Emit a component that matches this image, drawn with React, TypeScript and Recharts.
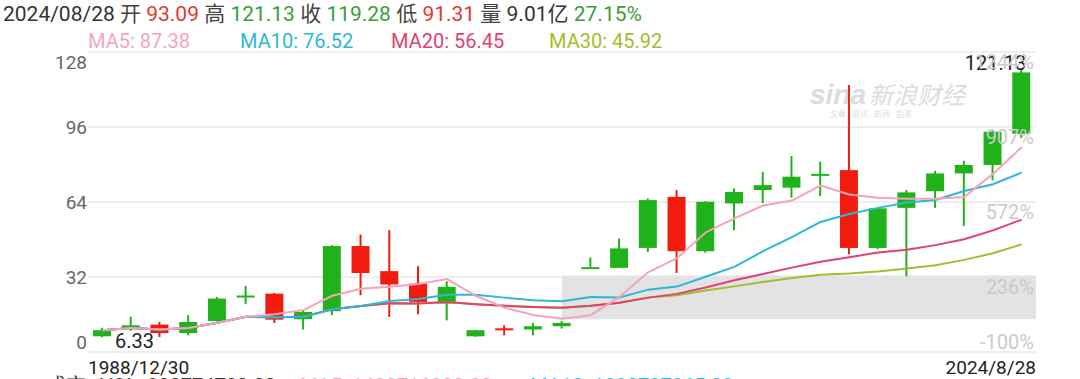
import React from 'react';
import { ComposedChart, Bar, Line, XAxis, YAxis, CartesianGrid, ReferenceArea } from 'recharts';

const categories = [
  '1988/12/30', '1993', '1994', '1995', '1996', '1997', '1998', '1999', '2000', '2001', '2002',
  '2003', '2004', '2005', '2006', '2007', '2008', '2009', '2010', '2011', '2012', '2013',
  '2014', '2015', '2016', '2017', '2018', '2019', '2020', '2021', '2022', '2023', '2024/8/28',
];
const opens = [6.7, 10.0, 11.7, 8.1, 13.2, 23.7, 24.9, 14.0, 17.4, 45.2, 34.5, 29.2, 20.7, 6.7, 10.1, 9.6, 11.0, 36.0, 35.9, 44.4, 66.2, 43.0, 63.4, 69.1, 70.1, 75.8, 77.6, 44.4, 61.5, 68.6, 76.2, 79.8, 93.09];
const highs = [10.4, 15.0, 12.8, 15.7, 23.5, 28.2, 25.2, 17.8, 45.6, 50.1, 52.0, 36.6, 30.2, 9.5, 11.4, 12.4, 13.2, 40.3, 48.4, 65.5, 69.1, 64.3, 69.8, 76.9, 83.6, 81.2, 113.9, 61.5, 69.1, 77.3, 81.6, 94.7, 121.13];
const lows = [6.33, 9.0, 6.4, 7.1, 13.0, 20.4, 12.4, 9.6, 15.7, 24.2, 15.0, 16.1, 13.5, 6.5, 7.1, 7.1, 10.0, 36.0, 35.9, 42.7, 33.7, 42.4, 52.0, 63.6, 65.8, 66.5, 41.7, 43.9, 32.3, 61.5, 53.8, 73.3, 91.31];
const closes = [9.3, 11.4, 8.1, 12.8, 22.8, 24.1, 13.8, 17.1, 45.2, 33.7, 28.8, 21.4, 27.8, 9.3, 9.9, 11.0, 12.4, 36.2, 44.2, 64.8, 43.0, 64.1, 68.3, 71.2, 74.8, 76.0, 44.4, 61.3, 68.1, 76.2, 79.8, 94.0, 119.28];
const ma5 = [9.3, 10.2, 9.6, 10.2, 12.5, 15.0, 16.1, 17.9, 24.0, 27.0, 27.8, 29.0, 31.1, 24.0, 18.9, 15.8, 14.2, 15.7, 23.5, 34.0, 40.0, 51.0, 57.0, 62.5, 64.6, 71.0, 67.2, 65.8, 65.4, 65.4, 66.1, 76.0, 87.38];
const ma10 = [9.3, 10.2, 9.6, 10.2, 12.5, 15.0, 14.8, 15.0, 18.2, 19.6, 21.8, 22.6, 24.4, 24.4, 23.2, 22.1, 21.7, 23.5, 23.3, 26.6, 27.9, 32.1, 36.3, 43.0, 49.0, 55.5, 58.9, 61.5, 63.8, 64.9, 68.7, 71.6, 76.52];
const ma20 = [9.3, 10.2, 9.6, 10.2, 12.5, 15.0, 14.8, 15.0, 18.2, 19.6, 20.8, 20.7, 21.3, 20.4, 19.7, 19.2, 18.9, 19.7, 21.0, 23.2, 24.8, 27.5, 30.6, 33.3, 36.0, 38.5, 40.4, 42.5, 43.6, 45.6, 48.1, 51.9, 56.45];
const ma30 = [9.3, 10.2, 9.6, 10.2, 12.5, 15.0, 14.8, 15.0, 18.2, 19.6, 20.8, 20.7, 21.3, 20.4, 19.7, 19.2, 18.9, 19.7, 21.0, 23.2, 24.2, 26.2, 28.0, 29.9, 31.6, 33.0, 33.5, 34.3, 35.6, 37.0, 39.3, 42.1, 45.92];

const priceTicks = [0, 32, 64, 96, 128];
const pctLabels = ['-100%', '236%', '572%', '907%', '1244%'];
const edgeLabels = ['1988/12/30', '2024/8/28'];
const shadedBand = { fromIndex: 16, toIndex: 32.5, low: 14, high: 32.6 };

const headerItems = [
  { t: '2024/08/28', c: '#333' }, { t: '开', c: '#444' }, { t: '93.09', c: '#e5372e' },
  { t: '高', c: '#444' }, { t: '121.13', c: '#3a9e3a' }, { t: '收', c: '#444' }, { t: '119.28', c: '#3a9e3a' },
  { t: '低', c: '#444' }, { t: '91.31', c: '#e5372e' }, { t: '量', c: '#444' }, { t: '9.01亿', c: '#333' },
  { t: '27.15%', c: '#3a9e3a' },
];
const legendItems = [
  { t: 'MA5: 87.38', c: '#f4a3bf', left: 88 },
  { t: 'MA10: 76.52', c: '#2cb8d6', left: 240 },
  { t: 'MA20: 56.45', c: '#e0426f', left: 391 },
  { t: 'MA30: 45.92', c: '#a3bd2c', left: 549 },
];
const volItems = [
  { t: '成交', c: '#333', left: 46 },
  { t: 'VOL: 902774720.00', c: '#333', left: 100 },
  { t: 'MA5: 1482716880.00', c: '#f4a3bf', left: 300 },
  { t: 'MA10: 1290737865.00', c: '#2cb8d6', left: 530 },
];

const GREEN = '#20b21a';
const RED = '#f11c0e';
const FONT = 'Roboto, "Noto Sans CJK SC", sans-serif';
const W = 1080;
const H = 379;
const LEFT_W = 88;
const RIGHT_W = 44;
const PLOT_W = W - LEFT_W - RIGHT_W;
const HALF_BAND = PLOT_W / categories.length / 2;
const MAX_HIGH = Math.max(...highs);
const MIN_LOW = Math.min(...lows);

const data = categories.map((d, i) => ({
  date: d,
  idx: i,
  range: [lows[i], highs[i]],
  open: opens[i],
  high: highs[i],
  low: lows[i],
  close: closes[i],
  ma5: ma5[i],
  ma10: ma10[i],
  ma20: ma20[i],
  ma30: ma30[i],
}));

const Candle = (props: any) => {
  const { x, y, width, height, payload } = props;
  if (x == null || y == null) return null;
  const { open, close, high, low } = payload;
  const top = Math.min(y, y + height);
  const h = Math.abs(height);
  const ratio = h / (high - low || 1);
  const yOf = (v: number) => top + (high - v) * ratio;
  const up = close >= open;
  const color = up ? GREEN : RED;
  const cx = x + width / 2;
  const bTop = yOf(Math.max(open, close));
  const bBot = yOf(Math.min(open, close));
  const bh = Math.max(bBot - bTop, 2);
  return (
    <g>
      <line x1={cx} x2={cx} y1={top} y2={top + h} stroke={color} strokeWidth={2} />
      <rect x={x} y={bTop} width={width} height={bh} fill={color} />
      {high === MAX_HIGH ? (
        <text x={cx + 5} y={top + 2} textAnchor="end" fontSize={20} fill="#222" fontFamily={FONT}>
          {high.toFixed(2)}
        </text>
      ) : null}
      {low === MIN_LOW ? (
        <text x={cx + 13} y={top + h + 11} textAnchor="start" fontSize={20} fill="#222" fontFamily={FONT}>
          {low.toFixed(2)}
        </text>
      ) : null}
    </g>
  );
};

const LeftTick = (props: any) => {
  const { x, y, payload } = props;
  const v = payload.value;
  const i = priceTicks.indexOf(v);
  const last = priceTicks.length - 1;
  const dy = i === last ? 10 : i === 0 ? -10 : 0;
  const pdy = i === 0 ? -10 : 10;
  return (
    <g>
      <text x={x} y={y + dy} textAnchor="end" dominantBaseline="central" fontSize={19} fill="#666" fontFamily={FONT}>
        {v}
      </text>
      <text
        x={x + 1 + PLOT_W - 2}
        y={y + pdy}
        textAnchor="end"
        dominantBaseline="central"
        fontSize={20}
        fill="#cacaca"
        fontFamily={FONT}
      >
        {pctLabels[i]}
      </text>
    </g>
  );
};

const BottomTick = (props: any) => {
  const { x, y, payload } = props;
  const v = payload.value;
  if (!edgeLabels.includes(v)) return null;
  const first = v === edgeLabels[0];
  return (
    <text
      x={first ? x - HALF_BAND : x + HALF_BAND}
      y={y + 15}
      textAnchor={first ? 'start' : 'end'}
      dominantBaseline="central"
      fontSize={19}
      fill="#222"
      fontFamily={FONT}
    >
      {v}
    </text>
  );
};

export default function App() {
  return (
    <div
      style={{
        position: 'absolute',
        left: 0,
        top: 0,
        width: W,
        height: H,
        overflow: 'hidden',
        background: '#fff',
        fontFamily: FONT,
      }}
    >
      <div style={{ position: 'absolute', left: 3, top: 1, fontSize: 21, whiteSpace: 'pre', lineHeight: '26px' }}>
        {headerItems.map((it, i) => (
          <span key={i} style={{ color: it.c }}>
            {it.t}
            {i < headerItems.length - 1 ? ' ' : ''}
          </span>
        ))}
      </div>
      {legendItems.map((it, i) => (
        <div
          key={i}
          style={{ position: 'absolute', left: it.left, top: 28, fontSize: 20, color: it.c, whiteSpace: 'pre', lineHeight: '26px' }}
        >
          {it.t}
        </div>
      ))}
      {volItems.map((it, i) => (
        <div
          key={i}
          style={{ position: 'absolute', left: it.left, top: 373, fontSize: 20, color: it.c, whiteSpace: 'pre', lineHeight: '26px' }}
        >
          {it.t}
        </div>
      ))}
      <div style={{ position: 'absolute', left: 810, top: 76, color: '#dcdcdc', whiteSpace: 'pre' }}>
        <span style={{ fontSize: 28, fontWeight: 700, fontStyle: 'italic', fontFamily: 'Arial, sans-serif' }}>sina</span>
        <span style={{ fontSize: 24, fontStyle: 'italic', marginLeft: 3 }}>新浪财经</span>
      </div>
      <div style={{ position: 'absolute', left: 830, top: 108, color: '#dedede', fontSize: 8, whiteSpace: 'pre' }}>
        文章 · 资讯 · 新闻 · 股票
      </div>
      <div style={{ position: 'absolute', left: 0, top: 0 }}>
        <ComposedChart width={W} height={H} data={data} margin={{ top: 52, right: RIGHT_W, bottom: 0, left: 0 }}>
          <CartesianGrid horizontal vertical={false} stroke="#e8e8e8" strokeWidth={1.5} />
          <XAxis
            dataKey="date"
            interval={0}
            tickLine={false}
            axisLine={false}
            height={27}
            tickSize={0}
            tickMargin={0}
            tick={<BottomTick />}
          />
          <XAxis xAxisId="num" type="number" dataKey="idx" domain={[-0.5, categories.length - 0.5]} hide />
          <YAxis
            domain={[priceTicks[0], priceTicks[priceTicks.length - 1]]}
            ticks={priceTicks}
            interval={0}
            width={LEFT_W}
            tickLine={false}
            axisLine={false}
            tickSize={0}
            tickMargin={1}
            tick={<LeftTick />}
          />
          <ReferenceArea
            xAxisId="num"
            x1={shadedBand.fromIndex}
            x2={shadedBand.toIndex}
            y1={shadedBand.low}
            y2={shadedBand.high}
            fill="#e3e3e3"
            fillOpacity={1}
            stroke="none"
            ifOverflow="extendDomain"
          />
          <Bar dataKey="range" barSize={18} shape={<Candle />} isAnimationActive={false} />
          <Line dataKey="ma30" type="linear" stroke="#a3bd2c" strokeWidth={2} dot={false} isAnimationActive={false} />
          <Line dataKey="ma20" type="linear" stroke="#e0426f" strokeWidth={2} dot={false} isAnimationActive={false} />
          <Line dataKey="ma10" type="linear" stroke="#2cb8d6" strokeWidth={2} dot={false} isAnimationActive={false} />
          <Line dataKey="ma5" type="linear" stroke="#f4a3bf" strokeWidth={2} dot={false} isAnimationActive={false} />
        </ComposedChart>
      </div>
    </div>
  );
}
